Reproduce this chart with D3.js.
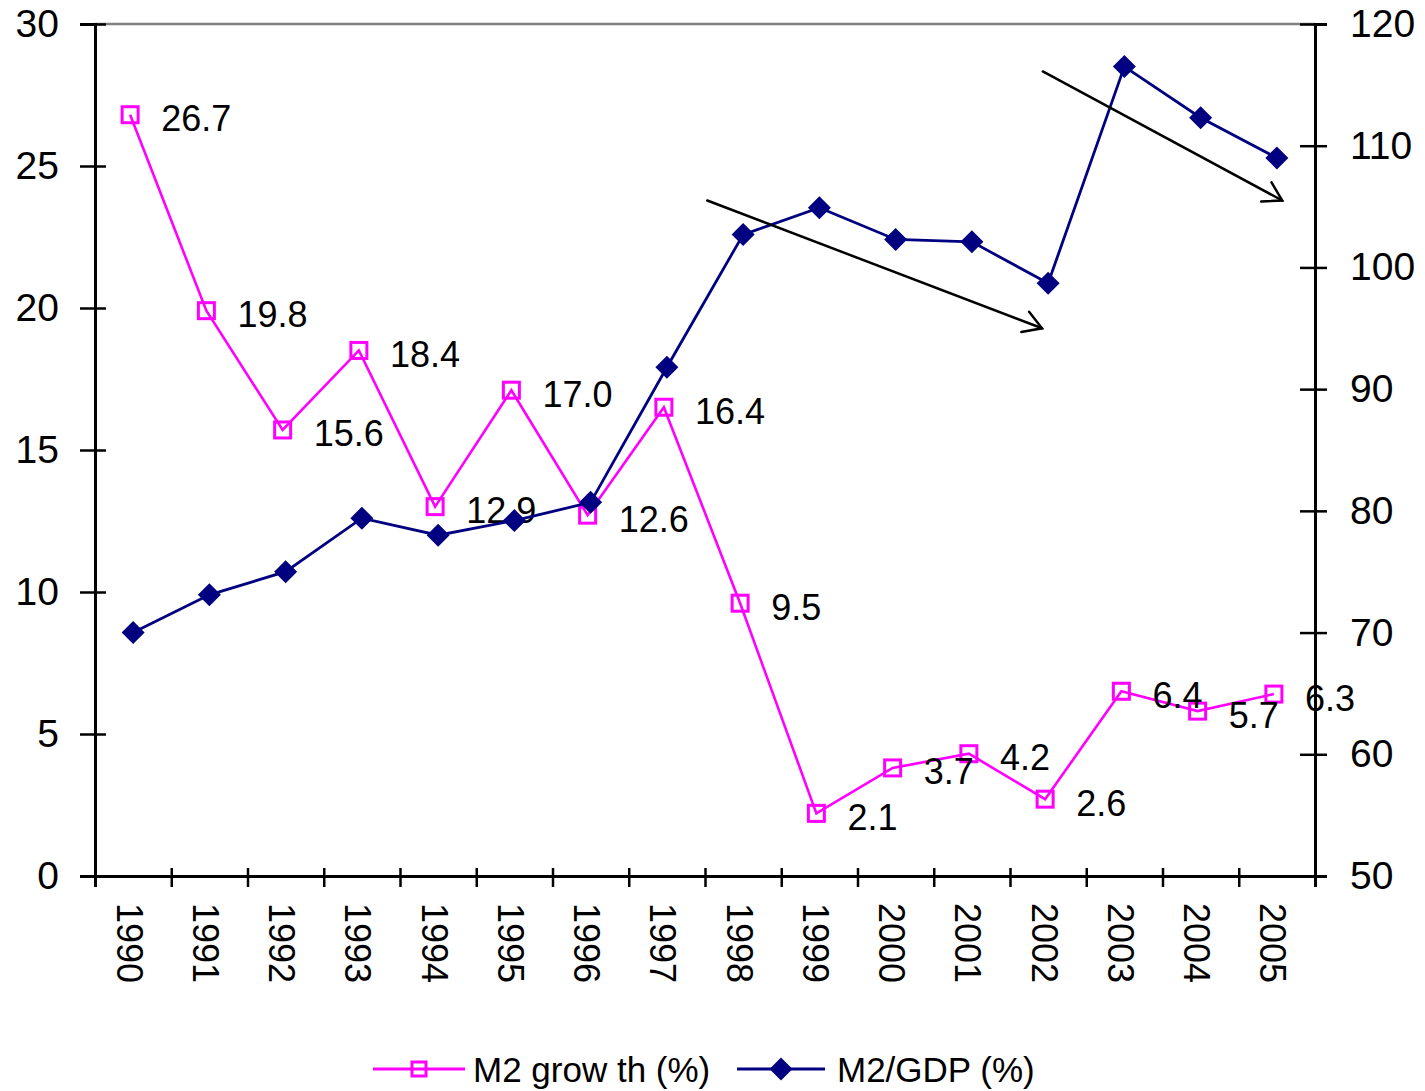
<!DOCTYPE html>
<html>
<head>
<meta charset="utf-8">
<script src="https://cdn.jsdelivr.net/npm/d3@7"></script>
<style>
  html, body { margin: 0; padding: 0; background: #fff; }
  svg { display: block; font-family: "Liberation Sans", Arial, sans-serif; }
</style>
</head>
<body>
<svg id="chart" width="1425" height="1091"></svg>
<script>
// Years on the category axis
const years = ["1990","1991","1992","1993","1994","1995","1996","1997",
               "1998","1999","2000","2001","2002","2003","2004","2005"];
// M2 growth, % (left axis)
const m2Growth = [26.7, 19.8, 15.6, 18.4, 12.9, 17.0, 12.6, 16.4,
                  9.5, 2.1, 3.7, 4.2, 2.6, 6.4, 5.7, 6.3];
// M2 / GDP, % (right axis)
const m2Gdp = [70.0, 73.1, 75.0, 79.4, 78.0, 79.2, 80.7, 91.8,
               102.7, 104.9, 102.3, 102.1, 98.7, 116.5, 112.3, 109.0];
// Axis ticks
const leftTicks = [0, 5, 10, 15, 20, 25, 30];
const rightTicks = [50, 60, 70, 80, 90, 100, 110, 120];
// Trend arrows, given as (category index, right-axis value) pairs
const trendArrows = [
  { from: [7.53, 105.5], to: [11.92, 95.0] },
  { from: [11.93, 116.1], to: [15.07, 105.5] }
];
const legendItems = ["M2 grow th (%)", "M2/GDP (%)"];

const PINK = "#FF00FF", NAVY = "#000080";
const plot = { left: 95, right: 1315, top: 24, bottom: 876 };

const svg = d3.select("#chart");

const x = d3.scaleBand().domain(years).range([plot.left, plot.right]);
const xi = d3.scaleLinear().domain([-0.5, years.length - 0.5]).range([plot.left, plot.right]);
const yL = d3.scaleLinear().domain([0, 30]).range([plot.bottom, plot.top]);
const yR = d3.scaleLinear().domain([50, 120]).range([plot.bottom, plot.top]);
const cx = d => x(d) + x.bandwidth() / 2;

// Plot-area top border
svg.append("line")
  .attr("x1", plot.left).attr("x2", plot.right)
  .attr("y1", plot.top).attr("y2", plot.top)
  .attr("stroke", "#808080").attr("stroke-width", 2.5);

// Left axis
const gL = svg.append("g").attr("transform", `translate(${plot.left},0)`)
  .call(d3.axisLeft(yL).tickValues(leftTicks).tickSizeOuter(0).tickSize(15).tickPadding(21));
gL.select(".domain").attr("stroke", "#000").attr("stroke-width", 3);
gL.selectAll(".tick line").attr("x1", 11).attr("stroke", "#000").attr("stroke-width", 2.5);
gL.selectAll(".tick text").attr("font-size", 39).attr("fill", "#000")
  .attr("font-family", "Liberation Sans, Arial, sans-serif");

// Right axis
const gR = svg.append("g").attr("transform", `translate(${plot.right},0)`)
  .call(d3.axisRight(yR).tickValues(rightTicks).tickSizeOuter(0).tickSize(12).tickPadding(23));
gR.select(".domain").attr("stroke", "#000").attr("stroke-width", 3);
gR.selectAll(".tick line").attr("x1", -15).attr("stroke", "#000").attr("stroke-width", 2.5);
gR.selectAll(".tick text").attr("font-size", 39).attr("fill", "#000")
  .attr("font-family", "Liberation Sans, Arial, sans-serif");

// Category axis: ticks on band boundaries, rotated year labels
const boundaries = d3.range(years.length + 1).map(i => i - 0.5);
const gB = svg.append("g").attr("transform", `translate(0,${plot.bottom})`)
  .call(d3.axisBottom(xi).tickValues(boundaries).tickSizeOuter(0).tickSize(11).tickFormat(""));
gB.select(".domain").attr("stroke", "#000").attr("stroke-width", 3);
gB.selectAll(".tick line").attr("y1", -8).attr("stroke", "#000").attr("stroke-width", 2.5);

svg.append("g").selectAll("text").data(years).join("text")
  .attr("transform", d => `translate(${cx(d) - 4},${plot.bottom + 27}) rotate(90)`)
  .attr("dominant-baseline", "central")
  .attr("font-size", 36).attr("fill", "#000")
  .text(d => d);

// M2 growth series (pink, hollow squares)
const pinkG = svg.append("g").attr("transform", "translate(-3,-3)");
pinkG.append("path")
  .datum(m2Growth)
  .attr("fill", "none").attr("stroke", PINK).attr("stroke-width", 2.6)
  .attr("d", d3.line().x((d, i) => cx(years[i])).y(d => yL(d)));
pinkG.selectAll("rect").data(m2Growth).join("rect")
  .attr("x", (d, i) => cx(years[i]) - 8).attr("y", d => yL(d) - 8)
  .attr("width", 16).attr("height", 16)
  .attr("fill", "none").attr("stroke", PINK).attr("stroke-width", 3);

// Value labels for M2 growth
svg.append("g").selectAll("text").data(m2Growth).join("text")
  .attr("x", (d, i) => cx(years[i]) + 28)
  .attr("y", d => yL(d) + 1)
  .attr("dominant-baseline", "central")
  .attr("font-size", 36).attr("fill", "#000")
  .text(d => d.toFixed(1));

// M2/GDP series (navy, filled diamonds)
const diamond = "M0,-11.5L11.5,0L0,11.5L-11.5,0Z";
const navyG = svg.append("g");
navyG.append("path")
  .datum(m2Gdp)
  .attr("fill", "none").attr("stroke", NAVY).attr("stroke-width", 2.8)
  .attr("d", d3.line().x((d, i) => cx(years[i])).y(d => yR(d)));
navyG.selectAll("path.mk").data(m2Gdp).join("path")
  .attr("class", "mk")
  .attr("transform", (d, i) => `translate(${cx(years[i])},${yR(d)})`)
  .attr("d", diamond).attr("fill", NAVY);

// Trend arrows with open heads
const arrowG = svg.append("g").attr("stroke", "#000").attr("stroke-width", 2.5)
  .attr("fill", "none").attr("stroke-linecap", "round");
trendArrows.forEach(a => {
  const x1 = xi(a.from[0]), y1 = yR(a.from[1]);
  const x2 = xi(a.to[0]), y2 = yR(a.to[1]);
  arrowG.append("line").attr("x1", x1).attr("y1", y1).attr("x2", x2).attr("y2", y2);
  const ang = Math.atan2(y2 - y1, x2 - x1) + Math.PI;
  const len = 21, spread = 31 * Math.PI / 180;
  const pts = [ang - spread, ang + spread].map(t => [x2 + len * Math.cos(t), y2 + len * Math.sin(t)]);
  arrowG.append("path").attr("d", `M${pts[0][0]},${pts[0][1]}L${x2},${y2}L${pts[1][0]},${pts[1][1]}`);
});

// Legend
const legY = 1069;
const leg = svg.append("g");
// pink entry
leg.append("line").attr("x1", 373).attr("x2", 465).attr("y1", legY).attr("y2", legY)
  .attr("stroke", PINK).attr("stroke-width", 3);
leg.append("rect").attr("x", 419 - 7).attr("y", legY - 7).attr("width", 14).attr("height", 14)
  .attr("fill", "none").attr("stroke", PINK).attr("stroke-width", 3);
leg.append("text").attr("x", 473).attr("y", legY).attr("dominant-baseline", "central")
  .attr("font-size", 35).attr("fill", "#000").text(legendItems[0]);
// navy entry
leg.append("line").attr("x1", 737).attr("x2", 825).attr("y1", legY).attr("y2", legY)
  .attr("stroke", NAVY).attr("stroke-width", 3);
leg.append("path").attr("transform", `translate(781,${legY})`).attr("d", diamond).attr("fill", NAVY);
leg.append("text").attr("x", 837).attr("y", legY).attr("dominant-baseline", "central")
  .attr("font-size", 35).attr("fill", "#000").text(legendItems[1]);
</script>
</body>
</html>
